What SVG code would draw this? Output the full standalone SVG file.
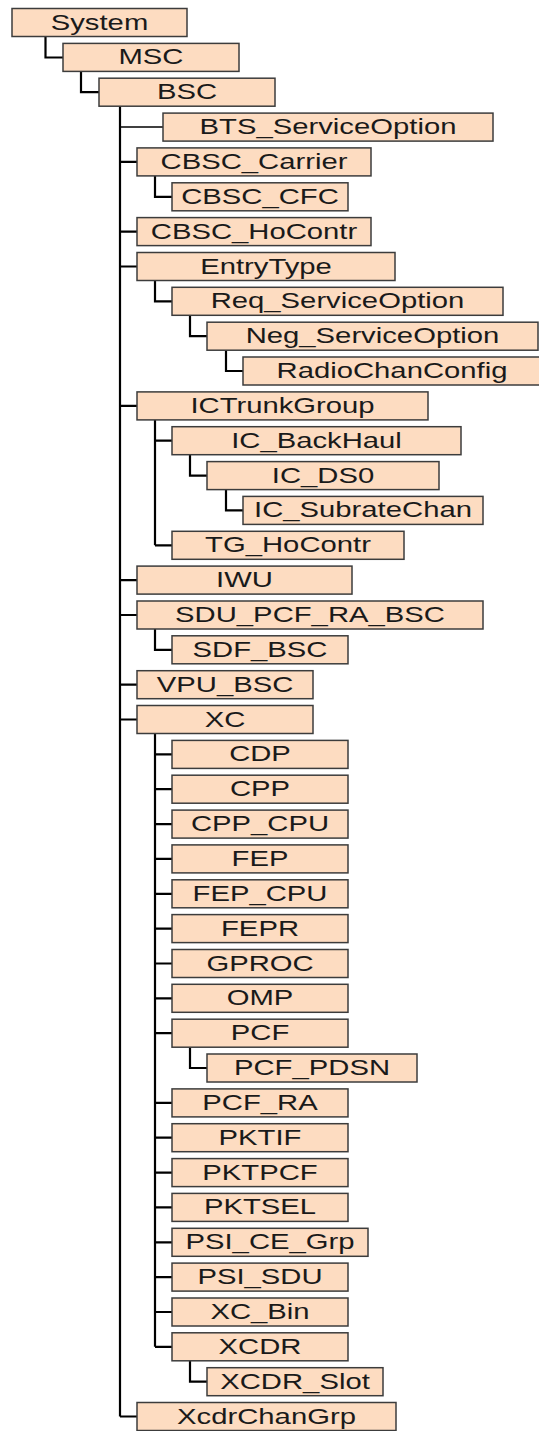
<svg xmlns="http://www.w3.org/2000/svg" width="539" height="1431" viewBox="0 0 539 1431">
<style>
.b{fill:#fddcc1;stroke:#3c3c3c;stroke-width:1.5}
.t{font-family:"Liberation Sans",Arial,sans-serif;font-size:22px;fill:#1a1a1a;text-anchor:middle}
.c{fill:none;stroke:#000;stroke-width:2.2}
</style>
<rect width="539" height="1431" fill="#fff"/>
<g id="connectors" class="c">
<path d="M45.5 37V57.5H63"/>
<path d="M81 71.5V92.2H99"/>
<path d="M120 106V1416.5"/>
<path d="M120 127H163" stroke-width="1.3"/>
<path d="M120 161.9H137M120 231.6H137M120 266.5H137M120 405.9H137M120 580.1H137M120 615H137M120 684.7H137M120 719.5H137M120 1416.5H137"/>
<path d="M155 176V196.8H172"/>
<path d="M155 280.5V301.3H172"/>
<path d="M190 315.3V336.2H207"/>
<path d="M226 350.2V371H243"/>
<path d="M155 419.9V545.3M155 440.7H172M155 545.3H172"/>
<path d="M190 454.7V475.6H207"/>
<path d="M226 489.6V510.4H243"/>
<path d="M155 629V649.8H172"/>
<path d="M155 733.5V1346.8"/>
<path d="M155 754.4H172M155 789.2H172M155 824.1H172M155 858.9H172M155 893.8H172M155 928.6H172M155 963.5H172M155 998.3H172M155 1033.2H172M155 1102.9H172M155 1137.7H172M155 1172.6H172M155 1207.4H172M155 1242.3H172M155 1277.1H172M155 1312H172M155 1346.8H172"/>
<path d="M190 1047.2V1068H207"/>
<path d="M190 1360.8V1381.7H207"/>
</g>
<g id="n0"><rect class="b" x="12" y="8.5" width="175" height="28"/><text class="t" transform="translate(99.5 29.5) scale(1.33 1)">System</text></g>
<g id="n1"><rect class="b" x="63" y="43.4" width="176" height="28"/><text class="t" transform="translate(151 64.4) scale(1.33 1)">MSC</text></g>
<g id="n2"><rect class="b" x="99" y="78.2" width="176" height="28"/><text class="t" transform="translate(187 99.2) scale(1.33 1)">BSC</text></g>
<g id="n3"><rect class="b" x="163" y="113.1" width="330" height="28"/><text class="t" transform="translate(328 134.1) scale(1.33 1)">BTS_ServiceOption</text></g>
<g id="n4"><rect class="b" x="137" y="147.9" width="234" height="28"/><text class="t" transform="translate(254 168.9) scale(1.33 1)">CBSC_Carrier</text></g>
<g id="n5"><rect class="b" x="172" y="182.8" width="176" height="28"/><text class="t" transform="translate(260 203.8) scale(1.33 1)">CBSC_CFC</text></g>
<g id="n6"><rect class="b" x="137" y="217.6" width="234" height="28"/><text class="t" transform="translate(254 238.6) scale(1.33 1)">CBSC_HoContr</text></g>
<g id="n7"><rect class="b" x="137" y="252.5" width="258" height="28"/><text class="t" transform="translate(266 273.5) scale(1.33 1)">EntryType</text></g>
<g id="n8"><rect class="b" x="172" y="287.3" width="331" height="28"/><text class="t" transform="translate(337.5 308.3) scale(1.33 1)">Req_ServiceOption</text></g>
<g id="n9"><rect class="b" x="207" y="322.2" width="331" height="28"/><text class="t" transform="translate(372.5 343.2) scale(1.33 1)">Neg_ServiceOption</text></g>
<g id="n10"><rect class="b" x="243" y="357" width="300" height="28"/><text class="t" transform="translate(392 378) scale(1.33 1)">RadioChanConfig</text></g>
<g id="n11"><rect class="b" x="137" y="391.9" width="291" height="28"/><text class="t" transform="translate(282.5 412.9) scale(1.33 1)">ICTrunkGroup</text></g>
<g id="n12"><rect class="b" x="172" y="426.7" width="289" height="28"/><text class="t" transform="translate(316.5 447.7) scale(1.33 1)">IC_BackHaul</text></g>
<g id="n13"><rect class="b" x="207" y="461.6" width="232" height="28"/><text class="t" transform="translate(323 482.6) scale(1.33 1)">IC_DS0</text></g>
<g id="n14"><rect class="b" x="243" y="496.4" width="240" height="28"/><text class="t" transform="translate(363 517.4) scale(1.33 1)">IC_SubrateChan</text></g>
<g id="n15"><rect class="b" x="172" y="531.3" width="232" height="28"/><text class="t" transform="translate(288 552.3) scale(1.33 1)">TG_HoContr</text></g>
<g id="n16"><rect class="b" x="137" y="566.1" width="215" height="28"/><text class="t" transform="translate(244.5 587.1) scale(1.33 1)">IWU</text></g>
<g id="n17"><rect class="b" x="137" y="601" width="346" height="28"/><text class="t" transform="translate(310 622) scale(1.33 1)">SDU_PCF_RA_BSC</text></g>
<g id="n18"><rect class="b" x="172" y="635.8" width="176" height="28"/><text class="t" transform="translate(260 656.8) scale(1.33 1)">SDF_BSC</text></g>
<g id="n19"><rect class="b" x="137" y="670.7" width="176" height="28"/><text class="t" transform="translate(225 691.7) scale(1.33 1)">VPU_BSC</text></g>
<g id="n20"><rect class="b" x="137" y="705.5" width="176" height="28"/><text class="t" transform="translate(225 726.5) scale(1.33 1)">XC</text></g>
<g id="n21"><rect class="b" x="172" y="740.4" width="176" height="28"/><text class="t" transform="translate(260 761.4) scale(1.33 1)">CDP</text></g>
<g id="n22"><rect class="b" x="172" y="775.2" width="176" height="28"/><text class="t" transform="translate(260 796.2) scale(1.33 1)">CPP</text></g>
<g id="n23"><rect class="b" x="172" y="810.1" width="176" height="28"/><text class="t" transform="translate(260 831.1) scale(1.33 1)">CPP_CPU</text></g>
<g id="n24"><rect class="b" x="172" y="844.9" width="176" height="28"/><text class="t" transform="translate(260 865.9) scale(1.33 1)">FEP</text></g>
<g id="n25"><rect class="b" x="172" y="879.8" width="176" height="28"/><text class="t" transform="translate(260 900.8) scale(1.33 1)">FEP_CPU</text></g>
<g id="n26"><rect class="b" x="172" y="914.6" width="176" height="28"/><text class="t" transform="translate(260 935.6) scale(1.33 1)">FEPR</text></g>
<g id="n27"><rect class="b" x="172" y="949.5" width="176" height="28"/><text class="t" transform="translate(260 970.5) scale(1.33 1)">GPROC</text></g>
<g id="n28"><rect class="b" x="172" y="984.3" width="176" height="28"/><text class="t" transform="translate(260 1005.3) scale(1.33 1)">OMP</text></g>
<g id="n29"><rect class="b" x="172" y="1019.2" width="176" height="28"/><text class="t" transform="translate(260 1040.2) scale(1.33 1)">PCF</text></g>
<g id="n30"><rect class="b" x="207" y="1054" width="210" height="28"/><text class="t" transform="translate(312 1075) scale(1.33 1)">PCF_PDSN</text></g>
<g id="n31"><rect class="b" x="172" y="1088.9" width="176" height="28"/><text class="t" transform="translate(260 1109.9) scale(1.33 1)">PCF_RA</text></g>
<g id="n32"><rect class="b" x="172" y="1123.7" width="176" height="28"/><text class="t" transform="translate(260 1144.7) scale(1.33 1)">PKTIF</text></g>
<g id="n33"><rect class="b" x="172" y="1158.6" width="176" height="28"/><text class="t" transform="translate(260 1179.6) scale(1.33 1)">PKTPCF</text></g>
<g id="n34"><rect class="b" x="172" y="1193.4" width="176" height="28"/><text class="t" transform="translate(260 1214.4) scale(1.33 1)">PKTSEL</text></g>
<g id="n35"><rect class="b" x="172" y="1228.3" width="196" height="28"/><text class="t" transform="translate(270 1249.3) scale(1.33 1)">PSI_CE_Grp</text></g>
<g id="n36"><rect class="b" x="172" y="1263.1" width="176" height="28"/><text class="t" transform="translate(260 1284.1) scale(1.33 1)">PSI_SDU</text></g>
<g id="n37"><rect class="b" x="172" y="1298" width="176" height="28"/><text class="t" transform="translate(260 1319) scale(1.33 1)">XC_Bin</text></g>
<g id="n38"><rect class="b" x="172" y="1332.8" width="176" height="28"/><text class="t" transform="translate(260 1353.8) scale(1.33 1)">XCDR</text></g>
<g id="n39"><rect class="b" x="207" y="1367.7" width="176" height="28"/><text class="t" transform="translate(295 1388.7) scale(1.33 1)">XCDR_Slot</text></g>
<g id="n40"><rect class="b" x="137" y="1402.5" width="259" height="28"/><text class="t" transform="translate(266.5 1423.5) scale(1.33 1)">XcdrChanGrp</text></g>
</svg>
